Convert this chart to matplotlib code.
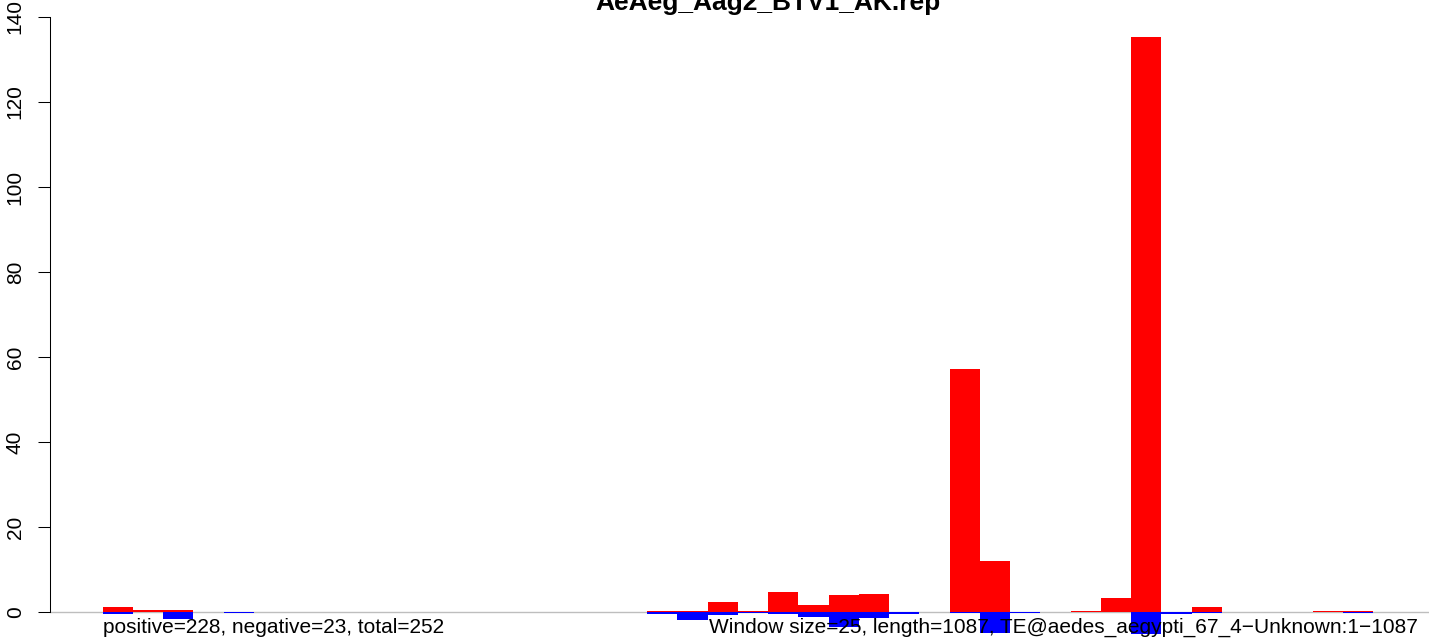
import numpy as np
import matplotlib.pyplot as plt

plt.rcParams["font.family"] = ["Liberation Sans", "DejaVu Sans"]

# window counts (44 windows of 25 bp)
window_size = 25
seq_length = 1087
title = "AeAeg_Aag2_BTV1_AK.rep"
te_name = "TE@aedes_aegypti_67_4\u2212Unknown:1\u22121087"

positive = [1.2, 0.5, 0.5, 0, 0, 0, 0, 0, 0, 0,
            0, 0, 0, 0, 0, 0, 0, 0, 0.25, 0.2,
            2.35, 0.2, 4.7, 1.65, 4.0, 4.25, 0, 0, 57.2, 12.0,
            0, 0, 0.3, 3.4, 135.3, 0, 1.25, 0, 0, 0,
            0.35, 0.2, 0, 0]
negative = [-0.5, 0, -1.65, 0, -0.2, 0, 0, 0, 0, 0,
            0, 0, 0, 0, 0, 0, 0, 0, -0.5, -1.9,
            -0.6, -0.3, -0.45, -1.1, -3.45, -1.5, -0.45, 0, -0.3, -5.0,
            -0.2, 0, 0, 0, -5.2, -0.55, -0.2, 0, 0, 0,
            0, -0.2, 0, 0]
n_pos, n_neg, n_total = 228, 23, 252
yticks = [0, 20, 40, 60, 80, 100, 120, 140]

W, H = 1429, 639
fig = plt.figure(figsize=(W / 100, H / 100), dpi=100)
# plot region runs past the right edge, as in the original
ax = fig.add_axes([50 / W, 0, 1436 / W, 1])

starts = np.arange(len(positive)) * window_size
ax.axhline(0, color="#BEBEBE", lw=1, zorder=1)
ax.bar(starts, positive, width=window_size, align="edge", color="#FF0000", lw=0, zorder=2)
ax.bar(starts, negative, width=window_size, align="edge", color="#0000FF", lw=0, zorder=2)

ax.set_xlim(-43.55, 1143.2)
ax.set_ylim(-6.353, 144.0)

for side in ["top", "right", "bottom"]:
    ax.spines[side].set_visible(False)
ax.spines["left"].set_bounds(0, 140)
ax.spines["left"].set_linewidth(0.75)
ax.set_xticks([])
ax.set_yticks(yticks)
ax.set_yticklabels([str(t) for t in yticks], rotation=90, va="center", fontsize=15)
ax.tick_params(axis="y", direction="out", length=8.6, width=0.75, pad=9.5)

ax.text(0, -4.94, f"positive={n_pos}, negative={n_neg}, total={n_total}",
        ha="left", va="baseline", fontsize=15, zorder=3)
ax.text(seq_length, -4.94, f"Window size={window_size}, length={seq_length}, {te_name}",
        ha="right", va="baseline", fontsize=15, zorder=3)
fig.text(768 / W, 1 - 10 / H, title, ha="center", va="baseline",
         fontsize=19, fontweight="bold")

fig.savefig("out.png", dpi=100)
